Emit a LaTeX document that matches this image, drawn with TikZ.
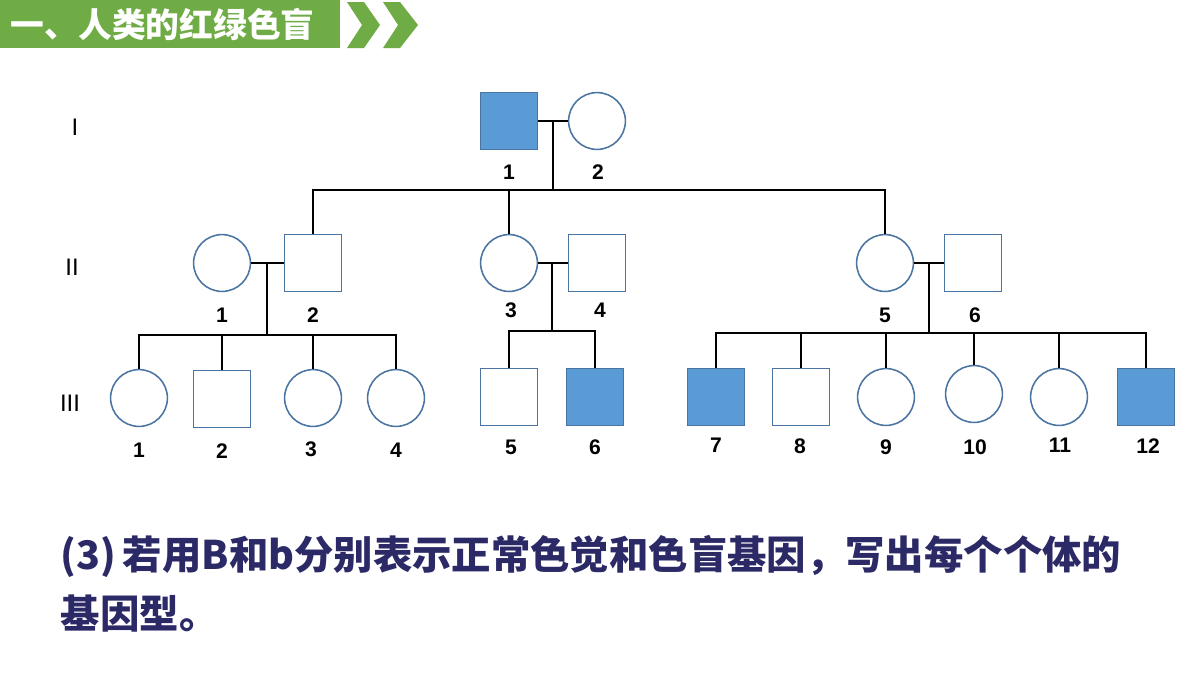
\documentclass[tikz,border=0pt]{standalone}
\usepackage{fontspec}
\setmainfont{Liberation Sans}
\newfontfamily\cjk{Noto Sans CJK SC}
\definecolor{affblue}{HTML}{5B9BD5}
\definecolor{edgeblue}{HTML}{4A74A2}
\definecolor{bargreen}{HTML}{6FAC46}
\definecolor{asknavy}{HTML}{2C2A66}
\tikzstyle{male}=[draw=edgeblue, line width=1.1pt, fill=white, minimum size=1.42cm, inner sep=0]
\tikzstyle{female}=[male, circle]
\tikzstyle{affected}=[fill=affblue]
\tikzstyle{num}=[font=\fontsize{15}{15}\selectfont\bfseries]
\tikzstyle{gen}=[font=\fontsize{17}{17}\selectfont]
\tikzstyle{link}=[line width=1.4pt]

\begin{document}
\begin{tikzpicture}[x=0.025cm, y=-0.025cm]
  \fill[white] (0,0) rectangle (1200,680);
  \useasboundingbox (0,0) rectangle (1200,680);

  % title bar
  \fill[bargreen] (0,0) rectangle (340,48);
  \fill[bargreen] (347,2) -- (364,2) -- (380,25) -- (364,48) -- (347,48) -- (362,25) -- cycle;
  \fill[bargreen] (383,2) -- (400,2) -- (418,25) -- (400,48) -- (383,48) -- (398,25) -- cycle;
  \node[anchor=west, text=white, font=\cjk\bfseries\fontsize{24}{24}\selectfont] (title) at (6,24) {一、人类的红绿色盲};

  % generations
  \node[gen] (gI) at (75,127) {I};
  \node[gen] (gII) at (72,267) {II};
  \node[gen] (gIII) at (70,403) {III};

  % generation I
  \node[male, affected] (I1) at (509,121) {};
  \node[female] (I2) at (597,121) {};
  \coordinate (mI) at (553,121);
  \coordinate (sI) at (553,190);

  % generation II
  \node[female] (II1) at (222,263) {};
  \node[male] (II2) at (313,263) {};
  \node[female] (II3) at (509,263) {};
  \node[male] (II4) at (597,263) {};
  \node[female] (II5) at (885,263) {};
  \node[male] (II6) at (973,263) {};
  \coordinate (mII1) at (267,263);
  \coordinate (sII1) at (267,335);
  \coordinate (mII2) at (552,263);
  \coordinate (sII2) at (552,331);
  \coordinate (mII3) at (929,263);
  \coordinate (sII3) at (929,333);

  % generation III
  \node[female] (III1) at (139,398) {};
  \node[male] (III2) at (222,399) {};
  \node[female] (III3) at (313,398) {};
  \node[female] (III4) at (396,398) {};
  \node[male] (III5) at (509,397) {};
  \node[male, affected] (III6) at (595,397) {};
  \node[male, affected] (III7) at (716,397) {};
  \node[male] (III8) at (801,397) {};
  \node[female] (III9) at (886,397) {};
  \node[female] (III10) at (974,394) {};
  \node[female] (III11) at (1059,397) {};
  \node[male, affected] (III12) at (1146,397) {};

  % marriages and sibships
  \draw[link] (I1) -- (I2);
  \draw[link] (mI) -- (sI);
  \draw[link] (II2.north) |- (sI) -| (II5.north);
  \draw[link] (sI) -| (II3.north);

  \draw[link] (II1) -- (II2);
  \draw[link] (mII1) -- (sII1);
  \draw[link] (III1.north) |- (sII1) -| (III4.north);
  \foreach \c in {2,3}
    \draw[link] (III\c.north) -- (III\c.north |- sII1);

  \draw[link] (II3) -- (II4);
  \draw[link] (mII2) -- (sII2);
  \draw[link] (III5.north) |- (sII2) -| (III6.north);

  \draw[link] (II5) -- (II6);
  \draw[link] (mII3) -- (sII3);
  \draw[link] (III7.north) |- (sII3) -| (III12.north);
  \foreach \c in {8,...,11}
    \draw[link] (III\c.north) -- (III\c.north |- sII3);

  % numbers
  \node[num] (nI1) at (509,172) {1};
  \node[num] (nI2) at (598,172) {2};
  \node[num] (nII1) at (222,315) {1};
  \node[num] (nII2) at (313,315) {2};
  \node[num] (nII3) at (511,310) {3};
  \node[num] (nII4) at (600,310) {4};
  \node[num] (nII5) at (885,315) {5};
  \node[num] (nII6) at (975,315) {6};
  \node[num] (nIII1) at (139,450) {1};
  \node[num] (nIII2) at (222,451) {2};
  \node[num] (nIII3) at (311,449) {3};
  \node[num] (nIII4) at (396,450) {4};
  \node[num] (nIII5) at (511,447) {5};
  \node[num] (nIII6) at (595,447) {6};
  \node[num] (nIII7) at (716,445) {7};
  \node[num] (nIII8) at (800,446) {8};
  \node[num] (nIII9) at (886,447) {9};
  \node[num] (nIII10) at (975,447) {10};
  \node[num] (nIII11) at (1060,445) {11};
  \node[num] (nIII12) at (1148,446) {12};

  % question
  \node[anchor=west, text=asknavy, font=\cjk\bfseries\fontsize{28}{28}\selectfont] (ask1) at (56,556) {(3)\,若用B和b分别表示正常色觉和色盲基因，写出每个个体的};
  \node[anchor=west, text=asknavy, font=\cjk\bfseries\fontsize{28}{28}\selectfont] (ask2) at (56,614) {基因型。};
\end{tikzpicture}
\end{document}
